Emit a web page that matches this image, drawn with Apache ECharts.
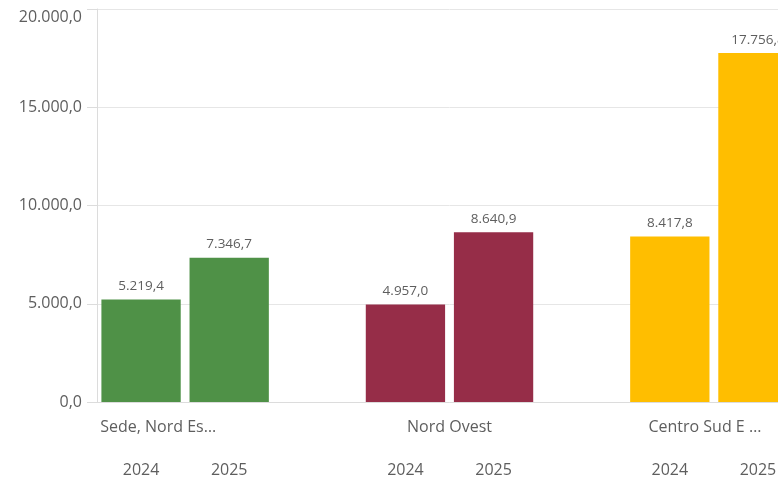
<!DOCTYPE html>
<html>
<head>
<meta charset="utf-8">
<script src="https://cdn.jsdelivr.net/npm/echarts@6/dist/echarts.min.js"></script>
<style>html,body{margin:0;padding:0;background:#fff;overflow:hidden;width:778px;height:478px}#c{width:805px;height:478px}</style>
</head>
<body>
<div id="c"></div>
<script>
const groups = ['Sede, Nord Es…', 'Nord Ovest', 'Centro Sud E …'];
const years = ['2024', '2025'];
const values2024 = [5219.4, 4957.0, 8417.8];
const values2025 = [7346.7, 8640.9, 17756.8];
const groupColors = ['#4f9147', '#962d48', '#ffbe00'];
const yTicks = [0, 5000, 10000, 15000, 20000];

function fmt(v) {
  const s = Math.abs(v).toFixed(1).split('.');
  const int = s[0].replace(/\B(?=(\d{3})+(?!\d))/g, '.');
  return (v < 0 ? '-' : '') + int + ',' + s[1];
}

const slotLabels = [];
const barData = [];
const groupAxis = [];
groups.forEach((g, i) => {
  const vals = [values2024[i], values2025[i]];
  years.forEach((y, j) => {
    slotLabels.push(y);
    barData.push({ value: vals[j], itemStyle: { color: groupColors[i] } });
  });
  if (i < groups.length - 1) { slotLabels.push(''); barData.push('-'); }
});
for (let k = 0; k <= slotLabels.length; k++) groupAxis.push('');
groups.forEach((g, i) => { groupAxis[1 + 3 * i] = g; });

const font = 'Open Sans';
const txt = '#5e5e5e';
const chart = echarts.init(document.getElementById('c'));
chart.setOption({
  animation: false,
  grid: { left: 97, right: 0, top: 9, bottom: 76, containLabel: false },
  xAxis: [
    {
      type: 'category', data: slotLabels, position: 'bottom',
      axisLine: { show: true, lineStyle: { color: '#dcdcdc' } },
      axisTick: { show: false },
      axisLabel: { interval: 0, margin: 60, color: txt, fontFamily: font, fontSize: 16 }
    },
    {
      type: 'category', data: groupAxis, position: 'bottom', boundaryGap: false,
      axisLine: { show: false }, axisTick: { show: false },
      axisLabel: {
        interval: 0, margin: 17, color: txt, fontFamily: font, fontSize: 16,
        formatter: function (v) {
          if (v === groups[0]) return '{a|' + v + '}';
          if (v === groups[2]) return '{c|' + v + '}';
          return v;
        },
        rich: {
          a: { padding: [0, 54, 0, 0], color: txt, fontFamily: font, fontSize: 16 },
          c: { padding: [0, 18, 0, 0], color: txt, fontFamily: font, fontSize: 16 }
        }
      }
    }
  ],
  yAxis: {
    type: 'value', min: yTicks[0], max: yTicks[yTicks.length - 1], interval: 5000,
    axisLine: { show: true, lineStyle: { color: '#dcdcdc' } },
    axisTick: { show: true, length: 10, lineStyle: { color: '#dcdcdc' } },
    splitLine: { lineStyle: { color: '#e6e6e6' } },
    axisLabel: {
      margin: 15, color: txt, fontFamily: font, fontSize: 16,
      formatter: fmt, verticalAlignMaxLabel: 'top'
    }
  },
  series: [{
    type: 'bar', xAxisIndex: 0, data: barData, barWidth: '90%',
    label: {
      show: true, position: 'top', distance: 6, color: txt,
      fontFamily: font, fontSize: 13.5,
      formatter: p => fmt(p.value)
    }
  }]
});
</script>
</body>
</html>
